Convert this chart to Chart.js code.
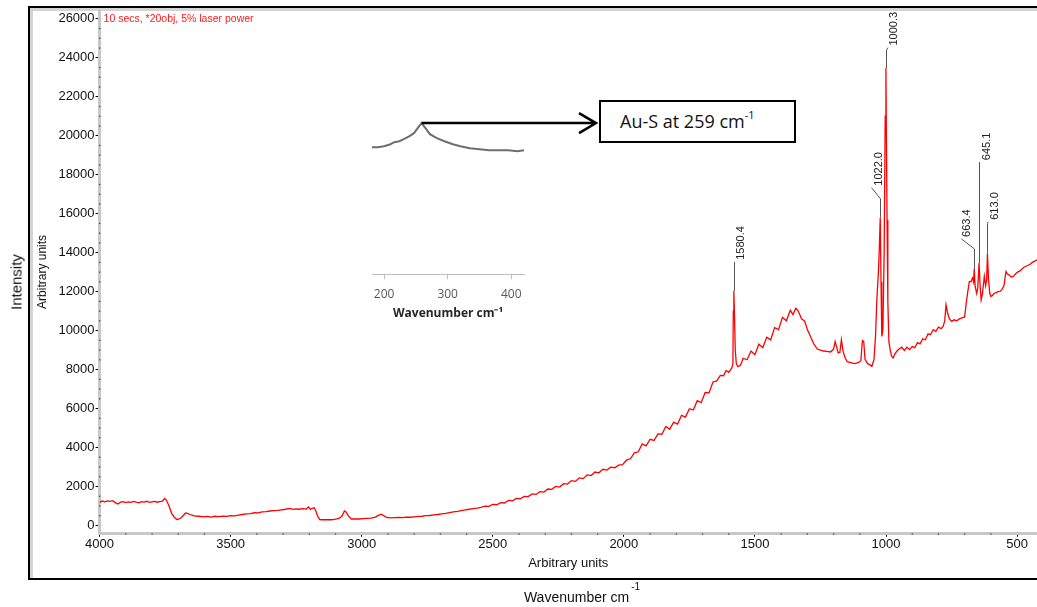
<!DOCTYPE html>
<html>
<head>
<meta charset="utf-8">
<script src="https://cdn.jsdelivr.net/npm/chart.js@4.4.1/dist/chart.umd.min.js"></script>
<style>
  body { margin: 0; background: #fff; width: 1037px; height: 607px; overflow: hidden; position: relative; font-family: "Liberation Sans", Arial, sans-serif; }
  #frame { position: absolute; left: 28px; top: 6px; width: 1100px; height: 570px; border: 2px solid #000; border-right: none; box-shadow: inset 3px 3px 0 #d4d4d4; }
  #main { position: absolute; left: 0; top: 0; }
  #inset { position: absolute; left: 360px; top: 100px; }
  .side { position: absolute; white-space: nowrap; transform: translate(-50%, -50%) rotate(-90deg); font-size: 15px; color: #111; }
  .bottom { position: absolute; white-space: nowrap; transform: translate(-50%, -50%); font-size: 14px; color: #111; }
  .bottom span { font-size: 10px; position: relative; top: -12px; margin-left: 2px; }
  #box { position: absolute; left: 599px; top: 100px; width: 197px; height: 43px; box-sizing: border-box; border: 2px solid #000; background: #fff;
         font-family: "Open Sans", sans-serif; font-size: 18px; line-height: 39px; padding-left: 19px; color: #111; white-space: nowrap; }
  #box span { font-size: 11px; position: relative; top: -9px; }
</style>
</head>
<body>
<div id="frame"></div>
<canvas id="main" width="1037" height="607"></canvas>
<canvas id="inset" width="240" height="221"></canvas>
<div class="side" style="left:16px; top:282px;">Intensity</div>
<div class="bottom" style="left:582px; top:597px;">Wavenumber cm<span>-1</span></div>
<div id="box">Au-S at 259 cm<span>-1</span></div>
<script>
// main Raman spectrum
var wavenumbers = [4000, 3990, 3980, 3970, 3960, 3950, 3940, 3930, 3920, 3910, 3900, 3890, 3880, 3870, 3860, 3850, 3840, 3830, 3820, 3810,
  3800, 3790, 3780, 3770, 3760, 3752, 3745, 3735, 3725, 3715, 3705, 3698, 3690, 3680, 3672, 3664, 3655, 3645, 3635, 3620,
  3605, 3590, 3575, 3560, 3545, 3530, 3515, 3500, 3485, 3470, 3455, 3440, 3425, 3410, 3395, 3380, 3365, 3350, 3335, 3320,
  3305, 3290, 3275, 3262, 3250, 3238, 3225, 3212, 3203, 3196, 3188, 3181, 3175, 3168, 3160, 3150, 3135, 3120, 3108, 3095,
  3085, 3075, 3066, 3060, 3050, 3040, 3025, 3010, 2995, 2980, 2965, 2950, 2938, 2926, 2916, 2905, 2890, 2875, 2860, 2845,
  2830, 2815, 2800, 2785, 2770, 2755, 2740, 2725, 2710, 2695, 2680, 2665, 2650, 2635, 2620, 2605, 2590, 2575, 2560, 2545,
  2530, 2515, 2500, 2485, 2470, 2455, 2440, 2425, 2410, 2395, 2380, 2365, 2350, 2335, 2320, 2305, 2290, 2275, 2260, 2245,
  2230, 2215, 2200, 2185, 2170, 2155, 2140, 2125, 2110, 2095, 2080, 2065, 2050, 2035, 2020, 2005, 1990, 1975, 1960, 1945,
  1930, 1915, 1900, 1885, 1870, 1855, 1840, 1825, 1810, 1795, 1780, 1765, 1750, 1735, 1720, 1705, 1690, 1675, 1660, 1646,
  1632, 1620, 1610, 1600, 1588, 1584, 1582.5, 1580.4, 1578, 1575, 1571, 1565, 1555, 1545, 1530, 1515, 1500, 1485, 1470, 1455,
  1440, 1425, 1410, 1395, 1380, 1365, 1355, 1344, 1335, 1322, 1310, 1300, 1288, 1275, 1262, 1250, 1238, 1226, 1212, 1200,
  1194, 1189, 1183, 1176, 1170, 1164, 1156, 1148, 1135, 1120, 1106, 1096, 1090, 1085, 1080, 1070, 1062, 1054, 1046, 1040,
  1035, 1029, 1026, 1022, 1019, 1016, 1012, 1007, 1003, 1000.3, 998, 996, 993, 989, 984, 979, 973, 966, 958, 950,
  940, 930, 920, 910, 900, 890, 880, 870, 860, 850, 840, 830, 820, 810, 800, 790, 782, 776, 771, 765,
  758, 749, 740, 730, 720, 710, 700, 694, 688, 682, 676, 670, 666, 663.4, 660, 654, 650, 645.1, 641, 637,
  632, 628, 625, 620, 616, 613, 609, 604, 600, 594, 588, 580, 572, 565, 558, 550, 545, 542, 537, 530,
  522, 514, 506, 498, 490, 482, 474, 466, 458, 450, 442, 434, 424];
var intensities = [1180, 1250, 1210, 1260, 1230, 1270, 1170, 1100, 1190, 1220, 1170, 1210, 1180, 1230, 1190, 1160, 1220, 1200, 1240, 1180,
  1210, 1230, 1190, 1220, 1240, 1380, 1300, 1000, 620, 420, 300, 320, 380, 520, 640, 620, 560, 520, 480, 470,
  440, 460, 430, 470, 450, 480, 460, 500, 490, 530, 560, 590, 610, 650, 640, 690, 710, 740, 760, 770,
  800, 830, 870, 820, 850, 830, 860, 840, 950, 820, 880, 910, 740, 480, 300, 290, 300, 290, 300, 330,
  370, 480, 740, 690, 480, 330, 340, 330, 350, 360, 370, 410, 500, 580, 500, 410, 390, 400, 410, 400,
  430, 420, 440, 460, 470, 500, 510, 540, 560, 590, 620, 660, 690, 720, 760, 800, 830, 860, 890, 930,
  990, 980, 1080, 1060, 1170, 1150, 1280, 1260, 1390, 1370, 1490, 1480, 1620, 1590, 1730, 1710, 1870, 1850, 2000, 1970,
  2140, 2120, 2300, 2260, 2440, 2400, 2590, 2560, 2740, 2700, 2880, 2840, 2990, 2960, 3090, 3120, 3350, 3420, 3720, 3780,
  4180, 4080, 4420, 4360, 4700, 4680, 5080, 4930, 5300, 5200, 5650, 5560, 5990, 5920, 6400, 6300, 6820, 6800, 7360, 7420,
  7700, 7680, 7950, 7850, 8080, 8300, 11000, 12040, 10800, 9000, 8300, 8150, 8220, 8580, 8500, 8950, 8760, 9300, 9120, 9660,
  9520, 10150, 10050, 10680, 10500, 11040, 10820, 11150, 11000, 10600, 10480, 10050, 9700, 9300, 9050, 9000, 8950, 8930, 8900, 9050,
  9440, 9200, 8860, 8880, 9530, 8950, 8600, 8400, 8360, 8300, 8350, 8450, 9490, 9450, 8520, 8300, 8250, 8160, 8500, 9700,
  11580, 13000, 14000, 15790, 12500, 9700, 10000, 14000, 21000, 23470, 19000, 15680, 11500, 9440, 9000, 8700, 8590, 8800, 8950, 9050,
  9150, 8980, 9150, 9020, 9180, 9120, 9380, 9320, 9580, 9520, 9820, 9800, 10050, 9960, 10180, 10100, 10210, 10500, 11320, 10900,
  10600, 10470, 10550, 10500, 10600, 10650, 10700, 11400, 12000, 12520, 12500, 12700, 12500, 13160, 12260, 11900, 12200, 13460, 12300, 11580,
  11900, 12400, 12780, 12300, 12600, 13940, 12600, 11900, 11750, 11800, 11900, 11950, 12000, 12010, 12100, 12300, 12800, 13030, 12900, 12850,
  12750, 12780, 12900, 13000, 13050, 13150, 13250, 13300, 13350, 13400, 13500, 13550, 13630];

// labelled peaks
var peakPositions = [1580.4, 1022.0, 1000.3, 663.4, 645.1, 613.0];
var peakHeights = [12040, 15790, 23470, 13160, 13460, 13940];
var peakLabels = ["1580.4", "1022.0", "1000.3", "663.4", "645.1", "613.0"];

// inset: low wavenumber region with the Au-S band
var insetWavenumbers = [181, 190, 200, 210, 216, 224, 231, 240, 247, 254, 259, 265, 272, 283, 295, 308, 320, 335, 350, 365, 380, 395, 410, 420];
var insetIntensities = [126, 126, 127, 129, 131, 132, 134, 137, 140, 146, 150, 145, 139, 135, 132, 129, 127, 125, 124, 123, 123, 123, 122, 123];

// tick labels
var yTicks = [0, 2000, 4000, 6000, 8000, 10000, 12000, 14000, 16000, 18000, 20000, 22000, 24000, 26000];
var xTicks = [4000, 3500, 3000, 2500, 2000, 1500, 1000, 500];
var insetTicks = [200, 300, 400];
var yMinorStep = 500;
var xMinorStep = 100;

var points = wavenumbers.map(function (w, i) { return { x: w, y: intensities[i] }; });

// leader lines of the peak labels: [rise, slant dx, slant dy, text dx]
var leaderStyle = [[29, 0, 0, 6], [19, -9, -11, 7], [18, 1.5, -2.5, 6], [20, -13, -10, 5], [101, 0, 0, 7], [30, 0.5, -2, 7]];

var decor = {
  id: "decor",
  afterDraw: function (chart) {
    var ctx = chart.ctx, area = chart.chartArea, xs = chart.scales.x, ys = chart.scales.y;
    var v;
    ctx.save();
    // minor ticks as dots on the axis lines
    ctx.fillStyle = "#444";
    for (v = Math.ceil(ys.min / yMinorStep) * yMinorStep; v <= ys.max; v += yMinorStep) {
      if (yTicks.indexOf(v) < 0) ctx.fillRect(area.left - 0.5, ys.getPixelForValue(v) - 0.6, 1.3, 1.3);
    }
    for (v = Math.ceil(xs.min / xMinorStep) * xMinorStep; v <= xs.max; v += xMinorStep) {
      if (xTicks.indexOf(v) < 0) ctx.fillRect(xs.getPixelForValue(v) - 0.6, area.bottom - 0.5, 1.3, 1.3);
    }
    // acquisition note
    ctx.fillStyle = "#ff1a1a";
    ctx.font = "10.5px 'Liberation Sans', Arial, sans-serif";
    ctx.textBaseline = "middle";
    ctx.textAlign = "left";
    ctx.fillText("10 secs, *20obj, 5% laser power", area.left + 4, area.top + 9);
    // peak labels
    ctx.strokeStyle = "#555";
    ctx.lineWidth = 1;
    ctx.fillStyle = "#222";
    ctx.font = "11px 'Liberation Sans Narrow', 'Liberation Sans', Arial, sans-serif";
    peakPositions.forEach(function (p, i) {
      var st = leaderStyle[i];
      var px = Math.round(xs.getPixelForValue(p)) + 0.5;
      var py = ys.getPixelForValue(peakHeights[i]);
      var topY = py - st[0];
      var ex = px + st[1], ey = topY + st[2];
      ctx.beginPath();
      ctx.moveTo(px, py);
      ctx.lineTo(px, topY);
      ctx.lineTo(ex, ey);
      ctx.stroke();
      ctx.save();
      ctx.translate(ex + st[3], ey - 2);
      ctx.rotate(-Math.PI / 2);
      ctx.textAlign = "left";
      ctx.textBaseline = "middle";
      ctx.fillText(peakLabels[i], 0, 0);
      ctx.restore();
    });
    ctx.restore();
  }
};

var axisFont = { family: "'Liberation Sans', Arial, sans-serif", size: 13 };

new Chart(document.getElementById("main"), {
  type: "line",
  data: {
    datasets: [{
      data: points,
      borderColor: "#ff0000",
      borderWidth: 1.3,
      pointRadius: 0,
      tension: 0,
      fill: false
    }]
  },
  options: {
    responsive: false,
    animation: false,
    devicePixelRatio: 1,
    layout: { padding: { left: 33, right: 0, top: 10, bottom: 36 } },
    plugins: { legend: { display: false }, tooltip: { enabled: false } },
    scales: {
      x: {
        type: "linear",
        reverse: true,
        min: 424,
        max: 4000,
        afterBuildTicks: function (axis) { axis.ticks = xTicks.map(function (t) { return { value: t }; }); },
        border: { color: "#c8c8c8", width: 3 },
        grid: { drawOnChartArea: false, tickLength: 3, tickColor: "#000" },
        ticks: {
          autoSkip: false,
          maxRotation: 0,
          padding: 0,
          color: "#111",
          font: axisFont,
          callback: function (v) { return String(v); }
        },
        title: {
          display: true,
          text: "Arbitrary units",
          color: "#111",
          font: axisFont,
          padding: { top: 3, bottom: 0 }
        }
      },
      y: {
        min: -430,
        max: 26450,
        afterBuildTicks: function (axis) { axis.ticks = yTicks.map(function (t) { return { value: t }; }); },
        border: { color: "#c8c8c8", width: 3 },
        grid: { drawOnChartArea: false, tickLength: 4, tickColor: "#000" },
        ticks: {
          autoSkip: false,
          padding: 1,
          color: "#111",
          font: axisFont,
          callback: function (v) { return String(v); }
        },
        title: {
          display: true,
          text: "Arbitrary units",
          color: "#111",
          font: { family: "'Liberation Sans', Arial, sans-serif", size: 12 },
          padding: { top: 2, bottom: 8 }
        }
      }
    }
  },
  plugins: [decor]
});

var insetArrow = {
  id: "insetArrow",
  afterDraw: function (chart) {
    var ctx = chart.ctx, xs = chart.scales.x, ys = chart.scales.y;
    var i = insetIntensities.indexOf(Math.max.apply(null, insetIntensities));
    var sx = xs.getPixelForValue(insetWavenumbers[i]);
    var sy = ys.getPixelForValue(insetIntensities[i]);
    var tip = chart.width - 4;
    ctx.save();
    ctx.strokeStyle = "#000";
    ctx.lineWidth = 2.5;
    ctx.beginPath();
    ctx.moveTo(sx, sy);
    ctx.lineTo(tip, sy);
    ctx.moveTo(tip - 17, sy - 10);
    ctx.lineTo(tip, sy);
    ctx.lineTo(tip - 17, sy + 10);
    ctx.stroke();
    ctx.restore();
  }
};

new Chart(document.getElementById("inset"), {
  type: "line",
  data: {
    datasets: [{
      data: insetWavenumbers.map(function (w, i) { return { x: w, y: insetIntensities[i] }; }),
      borderColor: "#6e6e6e",
      borderWidth: 2,
      pointRadius: 0,
      tension: 0
    }]
  },
  options: {
    responsive: false,
    animation: false,
    devicePixelRatio: 1,
    layout: { padding: { left: 12, right: 76, top: 10, bottom: 0 } },
    plugins: { legend: { display: false }, tooltip: { enabled: false } },
    scales: {
      x: {
        type: "linear",
        min: 181,
        max: 420,
        afterBuildTicks: function (axis) { axis.ticks = insetTicks.map(function (t) { return { value: t }; }); },
        border: { color: "#bfbfbf", width: 1 },
        grid: { drawOnChartArea: false, tickLength: 5, tickColor: "#bfbfbf" },
        ticks: {
          autoSkip: false,
          maxRotation: 0,
          padding: 8,
          color: "#595959",
          font: { family: "'Open Sans', sans-serif", size: 12 },
          callback: function (v) { return String(v); }
        },
        title: {
          display: true,
          text: "Wavenumber cm\u207B\u00B9",
          color: "#262626",
          font: { family: "'Open Sans', sans-serif", size: 12, weight: "bold" },
          padding: { top: -3, bottom: 0 }
        }
      },
      y: { display: false, min: 0, max: 163 }
    }
  },
  plugins: [insetArrow]
});
</script>
</body>
</html>
